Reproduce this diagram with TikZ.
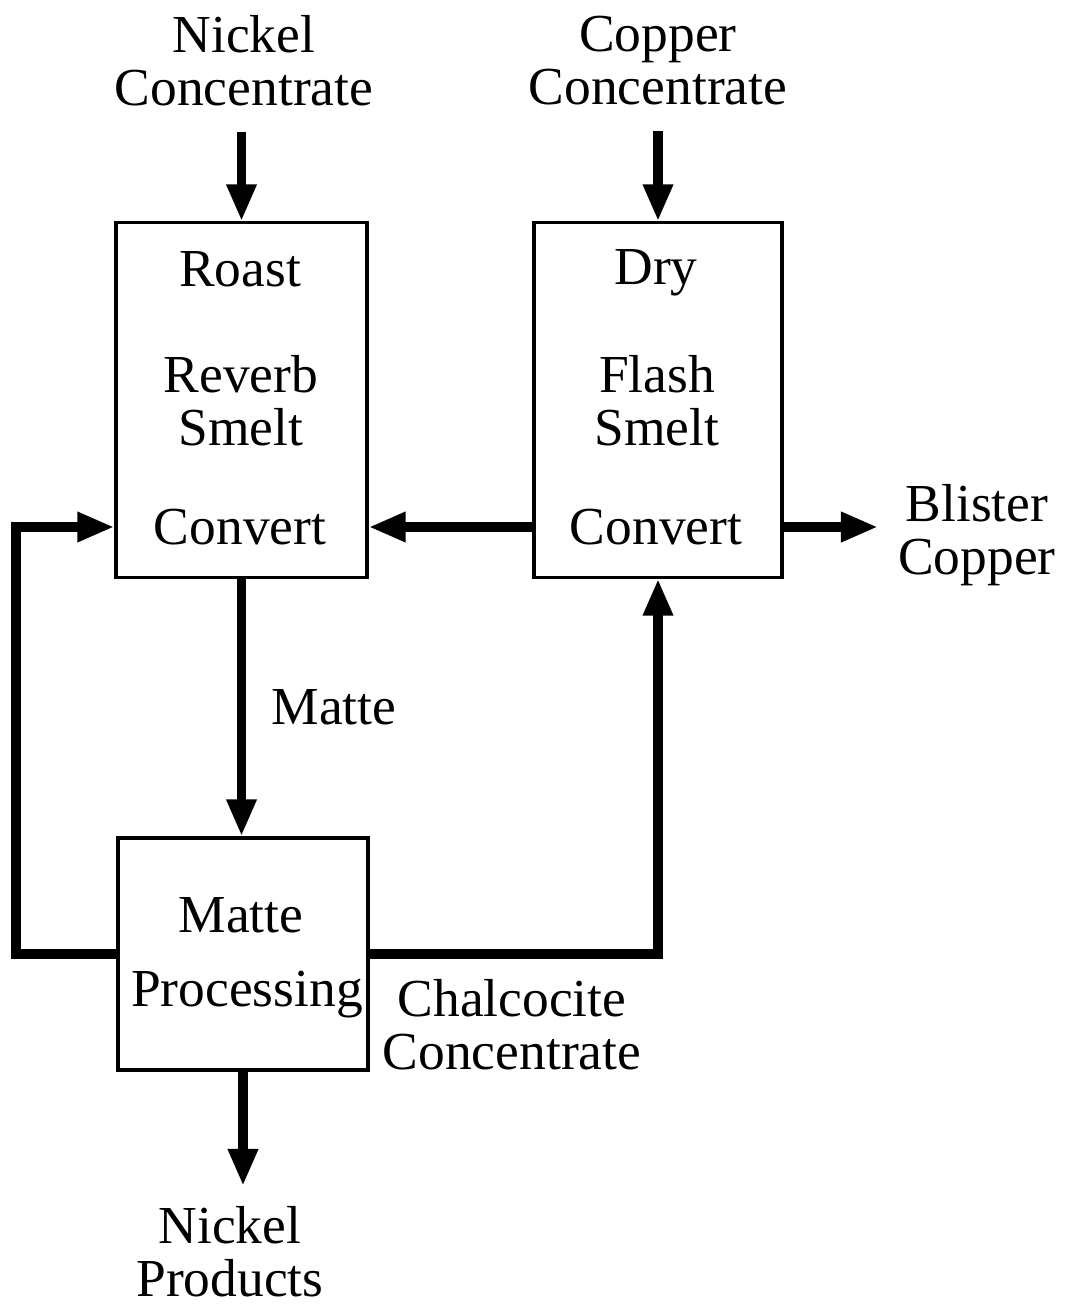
\documentclass[tikz,border=0pt]{standalone}
\usepackage{fontspec}
\setmainfont{Liberation Serif}
\usetikzlibrary{arrows.meta,calc}

\begin{document}
\begin{tikzpicture}[x=0.01cm,y=-0.01cm,
  font=\fontsize{15.2pt}{15.1pt}\selectfont,
  flow/.style={line width=2.8pt,-{Triangle[width=0.28cm,length=0.37cm]}},
  unit/.style={draw,line width=0.9pt,inner sep=0pt},
  lbl/.style={inner sep=0pt,align=center}]
\useasboundingbox (0,0) rectangle (1065,1306);
% process boxes
\node[unit,minimum width=2.51cm,minimum height=3.54cm] (boxA) at (241.5,400) {};
\node[unit,minimum width=2.48cm,minimum height=3.54cm] (boxB) at (658,400) {};
\node[unit,minimum width=2.50cm,minimum height=2.32cm] (boxC) at (243,954) {};
% texts in the boxes
\node[lbl] (roast) at (240,269) {Roast};
\node[lbl] (reverb) at (241,401) {Reverb\\Smelt};
\node[lbl] (convA) at (240,527) {Convert};
\node[lbl] (dry) at (656,273) {Dry};
\node[lbl] (flash) at (657,401) {Flash\\Smelt};
\node[lbl] (convB) at (656,527) {Convert};
\node[lbl] (mattebox) at (241,915) {Matte};
\node[lbl] (proc) at (247,995) {Processing};
% feeds and products
\node[lbl] (nickelIn) at (244,61) {Nickel\\Concentrate};
\node[lbl] (copperIn) at (658,61) {Copper\\Concentrate};
\node[lbl] (blister) at (977,535) {Blister\\Copper};
\node[lbl] (matte) at (334,707) {Matte};
\node[lbl] (chalco) at (512,1025) {Chalcocite\\Concentrate};
\node[lbl] (nickelOut) at (230,1252) {Nickel\\Products};
\coordinate (loopL) at (16,954);
\coordinate (blisterIn) at (878,527);
\coordinate (prodEnd) at (243,1186);
% connectors
\draw[flow,shorten <=0.25cm] (boxA.north |- nickelIn.south) -- (boxA.north);
\draw[flow,shorten <=0.25cm] (boxB.north |- copperIn.south) -- (boxB.north);
\draw[flow] (boxB.west |- convB) -- (boxA.east |- convA);
\draw[flow] (boxB.east |- convB) -- (blisterIn);
\draw[flow] (boxA.south) -- (boxA.south |- boxC.north);
\draw[flow] (boxC.west) -- (loopL) |- (boxA.west |- convA);
\draw[flow] (boxC.east) -| (boxB.south);
\draw[flow] (boxC.south) -- (prodEnd);
\end{tikzpicture}
\end{document}
